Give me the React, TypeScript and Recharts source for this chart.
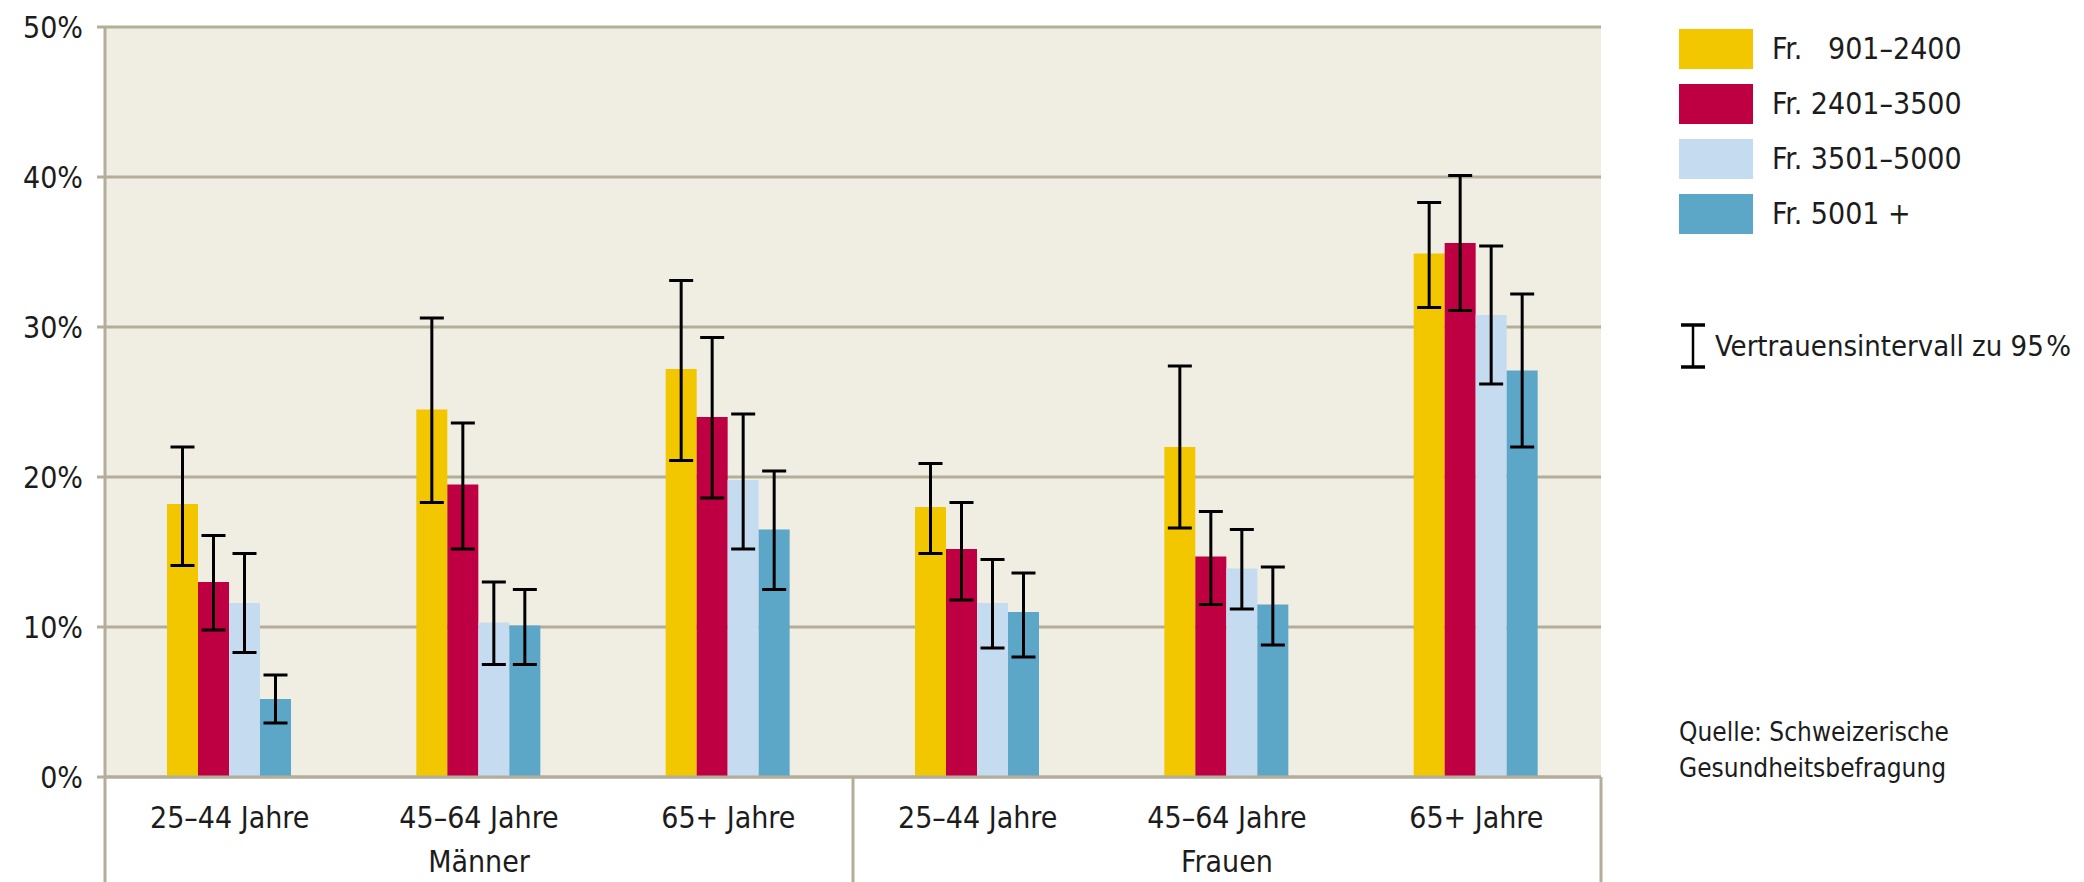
import React from "react";
import { BarChart, Bar, XAxis, YAxis, CartesianGrid, ErrorBar, Legend } from "recharts";

const ageGroups = ["25–44 Jahre", "45–64 Jahre", "65+ Jahre", "25–44 Jahre", "45–64 Jahre", "65+ Jahre"];
const genders = ["Männer", "Männer", "Männer", "Frauen", "Frauen", "Frauen"];

const seriesNames = ["Fr. \u2007901–2400", "Fr. 2401–3500", "Fr. 3501–5000", "Fr. 5001 +"];
const seriesColors = ["#F2C700", "#BE0042", "#C5DCF0", "#5CA6C8"];

// share in %, with 95% confidence interval bounds
const inc901 = [18.2, 24.5, 27.2, 18.0, 22.0, 34.9];
const inc901Lo = [14.1, 18.3, 21.1, 14.9, 16.6, 31.3];
const inc901Hi = [22.0, 30.6, 33.1, 20.9, 27.4, 38.3];

const inc2401 = [13.0, 19.5, 24.0, 15.2, 14.7, 35.6];
const inc2401Lo = [9.8, 15.2, 18.6, 11.8, 11.5, 31.1];
const inc2401Hi = [16.1, 23.6, 29.3, 18.3, 17.7, 40.1];

const inc3501 = [11.6, 10.3, 19.8, 11.6, 13.9, 30.8];
const inc3501Lo = [8.3, 7.5, 15.2, 8.6, 11.2, 26.2];
const inc3501Hi = [14.9, 13.0, 24.2, 14.5, 16.5, 35.4];

const inc5001 = [5.2, 10.1, 16.5, 11.0, 11.5, 27.1];
const inc5001Lo = [3.6, 7.5, 12.5, 8.0, 8.8, 22.0];
const inc5001Hi = [6.8, 12.5, 20.4, 13.6, 14.0, 32.2];

const yTicks = [0, 10, 20, 30, 40, 50];

const series = [
  [inc901, inc901Lo, inc901Hi],
  [inc2401, inc2401Lo, inc2401Hi],
  [inc3501, inc3501Lo, inc3501Hi],
  [inc5001, inc5001Lo, inc5001Hi],
];

const data = ageGroups.map((age, i) => {
  const row: Record<string, any> = { age, gender: genders[i] };
  series.forEach(([v, lo, hi], s) => {
    row[`s${s}`] = v[i];
    row[`e${s}`] = [v[i] - lo[i], hi[i] - v[i]];
  });
  return row;
});

const FONT = "'DejaVu Sans Condensed', 'DejaVu Sans', sans-serif";
const GRID = "#B4AD99";
const TEXT = "#1c1c1c";

const AgeTick = (props: any) => {
  const { x, y, payload } = props;
  return (
    <text x={x} y={y + 51} textAnchor="middle" fontSize={30} fill={TEXT} fontFamily={FONT} style={{ fontStretch: "condensed" }}>
      {payload.value}
    </text>
  );
};

const GenderTick = (props: any) => {
  const { x, y, payload, index } = props;
  const half = payload.offset ?? 124.7;
  const lines: number[] = [];
  if (index === 0 || genders[index - 1] !== genders[index]) lines.push(x - half);
  if (index === genders.length - 1) lines.push(x + half);
  const members = genders.map((g, i) => (g === genders[index] ? i : -1)).filter((i) => i >= 0);
  const mid = members[Math.floor(members.length / 2)];
  return (
    <g>
      {lines.map((lx) => (
        <line key={lx} x1={lx} x2={lx} y1={y - 60} y2={y + 50} stroke={GRID} strokeWidth={3} />
      ))}
      {index === mid && (
        <text x={x} y={y + 35} textAnchor="middle" fontSize={30} fill={TEXT} fontFamily={FONT} style={{ fontStretch: "condensed" }}>
          {payload.value}
        </text>
      )}
    </g>
  );
};

const SidePanel = () => (
  <div style={{ position: "relative", width: 405, height: 882, fontFamily: FONT, fontStretch: "condensed", color: TEXT }}>
    {seriesNames.map((name, i) => (
      <div key={name} style={{ position: "absolute", left: 0, top: 29 + i * 55, height: 40, display: "flex", alignItems: "center" }}>
        <div style={{ width: 74, height: 40, background: seriesColors[i] }} />
        <span style={{ marginLeft: 19, fontSize: 30, whiteSpace: "pre", lineHeight: "40px" }}>{name}</span>
      </div>
    ))}
    <div style={{ position: "absolute", left: 0, top: 322, height: 48, display: "flex", alignItems: "center" }}>
      <svg width={28} height={48}>
        <line x1={2} x2={26} y1={3} y2={3} stroke="#000" strokeWidth={3.5} />
        <line x1={14} x2={14} y1={3} y2={45} stroke="#000" strokeWidth={2.5} />
        <line x1={2} x2={26} y1={45} y2={45} stroke="#000" strokeWidth={3.5} />
      </svg>
      <span style={{ marginLeft: 8, fontSize: 29, whiteSpace: "pre" }}>Vertrauensintervall zu 95{"\u200A"}%</span>
    </div>
    <div style={{ position: "absolute", left: 0, top: 714, fontSize: 26, lineHeight: "36px" }}>
      Quelle: Schweizerische
      <br />
      Gesundheitsbefragung
    </div>
  </div>
);

export default function App() {
  return (
    <div style={{ position: "absolute", left: 0, top: 0, background: "#fff" }}>
      <BarChart
        width={2084}
        height={882}
        data={data}
        margin={{ top: 27, right: 483, left: 0, bottom: 0 }}
        barCategoryGap={62}
        barGap={0}
        style={{ fontFamily: FONT }}
      >
        <CartesianGrid vertical={false} stroke={GRID} strokeWidth={3} fill="#F0EEE2" fillOpacity={1} />
        <XAxis
          dataKey="age"
          height={60}
          tickLine={false}
          tickSize={0}
          tickMargin={0}
          axisLine={{ stroke: GRID, strokeWidth: 3 }}
          tick={<AgeTick />}
          interval={0}
        />
        <XAxis
          xAxisId="g"
          dataKey="gender"
          height={45}
          tickLine={false}
          tickSize={0}
          tickMargin={0}
          axisLine={false}
          tick={<GenderTick />}
          interval={0}
        />
        <YAxis
          width={105}
          domain={[0, 50]}
          ticks={yTicks}
          tickFormatter={(v) => `${v}%`}
          tickSize={8}
          tickMargin={14}
          tickLine={{ stroke: GRID, strokeWidth: 3 }}
          axisLine={{ stroke: GRID, strokeWidth: 3 }}
          tick={{ fontSize: 30, fill: TEXT, style: { fontStretch: "condensed" } }}
        />
        <YAxis
          yAxisId="r"
          orientation="right"
          width={0}
          domain={[0, 50]}
          tick={false}
          tickLine={false}
          axisLine={{ stroke: GRID, strokeWidth: 3 }}
        />
        <Legend
          align="center"
          verticalAlign="middle"
          content={() => <SidePanel />}
          wrapperStyle={{ left: 1679, top: 0, width: 405, height: 882 }}
        />
        {seriesColors.map((c, s) => (
          <Bar key={c} dataKey={`s${s}`} name={seriesNames[s]} fill={c} isAnimationActive={false}>
            <ErrorBar dataKey={`e${s}`} width={12} strokeWidth={3} stroke="#000" direction="y" isAnimationActive={false} />
          </Bar>
        ))}
      </BarChart>
    </div>
  );
}
